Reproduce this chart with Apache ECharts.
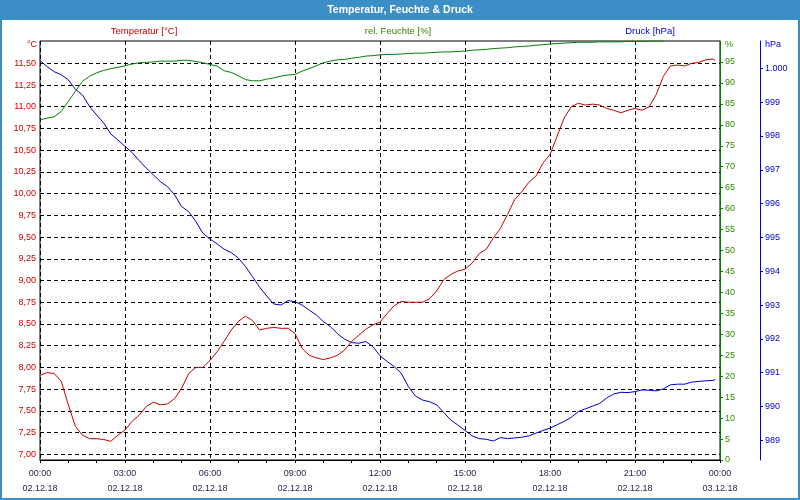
<!DOCTYPE html>
<html>
<head>
<meta charset="utf-8">
<script src="https://cdn.jsdelivr.net/npm/echarts@6/dist/echarts.min.js"></script>
<style>
html,body{margin:0;padding:0;background:#fff;}
#c{width:800px;height:500px;}
</style>
</head>
<body>
<div id="c"></div>
<script>
// time of day in hours (02.12.18 00:00 .. 23:50)
var hours = [0,0.25,0.5,0.75,1,1.25,1.5,1.75,2,2.25,2.5,2.75,3,3.25,3.5,3.75,4,4.25,4.5,4.75,5,5.25,5.5,5.75,
  6,6.25,6.5,6.75,7,7.25,7.5,7.75,8,8.25,8.5,8.75,9,9.25,9.5,9.75,10,10.25,10.5,10.75,11,11.25,11.5,11.75,
  12,12.25,12.5,12.75,13,13.25,13.5,13.75,14,14.25,14.5,14.75,15,15.25,15.5,15.75,16,16.25,16.5,16.75,17,17.25,17.5,17.75,
  18,18.25,18.5,18.75,19,19.25,19.5,19.75,20,20.25,20.5,20.75,21,21.25,21.5,21.75,22,22.25,22.5,22.75,23,23.25,23.5,23.75,23.83];

var temperature = [7.91,7.94,7.93,7.84,7.57,7.32,7.22,7.18,7.18,7.17,7.15,7.22,7.28,7.38,7.45,7.55,7.60,7.57,7.58,7.64,7.76,7.93,8.00,8.00,
  8.08,8.18,8.30,8.43,8.53,8.59,8.54,8.43,8.45,8.46,8.45,8.45,8.39,8.22,8.14,8.11,8.09,8.11,8.14,8.20,8.30,8.37,8.44,8.49,
  8.52,8.62,8.71,8.76,8.75,8.75,8.75,8.79,8.88,9.01,9.07,9.11,9.13,9.20,9.31,9.36,9.49,9.60,9.76,9.93,10.02,10.13,10.20,10.35,
  10.45,10.66,10.87,11.00,11.04,11.02,11.03,11.02,10.98,10.96,10.93,10.96,10.98,10.96,11.00,11.14,11.35,11.47,11.48,11.47,11.50,11.51,11.54,11.55,11.53];

var humidity = [81.2,81.6,81.9,83.2,85.6,88.0,90.4,91.6,92.4,93.0,93.4,93.7,94.1,94.5,94.8,94.9,95.0,95.2,95.2,95.2,95.4,95.4,95.1,94.8,
  94.4,94.0,92.9,92.5,91.7,90.8,90.5,90.5,90.9,91.2,91.6,91.9,92.0,92.8,93.4,94.1,94.8,95.2,95.5,95.6,95.9,96.1,96.4,96.5,
  96.7,96.8,96.8,96.9,97.0,97.1,97.1,97.2,97.3,97.4,97.4,97.5,97.6,97.8,97.9,98.0,98.2,98.3,98.4,98.6,98.7,98.8,99.0,99.1,
  99.3,99.4,99.5,99.6,99.7,99.7,99.7,99.8,99.8,99.8,99.8,99.9,99.9,99.9,100,100,100,null,null,null,null,null,null,null,null];

var pressure = [1000.23,1000.05,999.90,999.81,999.66,999.38,999.21,998.87,998.62,998.38,998.06,997.88,997.69,997.51,997.27,997.05,
  996.85,996.65,996.50,996.26,995.91,995.76,995.47,995.12,994.95,994.81,994.65,994.55,994.39,994.14,993.84,993.53,
  993.27,993.03,993.00,993.13,993.10,993.00,992.85,992.71,992.51,992.36,992.15,991.99,991.89,991.87,991.92,991.77,
  991.50,991.33,991.18,990.98,990.59,990.31,990.19,990.14,990.05,989.82,989.60,989.45,989.29,989.13,989.05,989.03,
  988.98,989.08,989.05,989.07,989.09,989.13,989.21,989.29,989.36,989.46,989.56,989.68,989.85,989.93,990.01,990.09,
  990.25,990.37,990.42,990.41,990.44,990.49,990.48,990.46,990.52,990.64,990.66,990.66,990.72,990.74,990.76,990.77,990.80];

var xTickLabels = {0:'00:00\n02.12.18',3:'03:00\n02.12.18',6:'06:00\n02.12.18',9:'09:00\n02.12.18',12:'12:00\n02.12.18',
  15:'15:00\n02.12.18',18:'18:00\n02.12.18',21:'21:00\n02.12.18',24:'00:00\n03.12.18'};

var chartTitle = 'Temperatur, Feuchte & Druck';
var seriesNames = ['Temperatur [°C]', 'rel. Feuchte [%]', 'Druck [hPa]'];

function pairs(vals){ return hours.map(function(h,i){ return [h, vals[i]]; }); }

var RED = '#cc0000', GREEN = '#008000', GREEN_TXT = '#2f8a00', BLUE = '#0000cc', FONT = 'Liberation Sans';
var dash = {color:'#000', type:[4,3], width:1};

var chart = echarts.init(document.getElementById('c'), null, {renderer:'canvas'});
chart.setOption({
  animation: false,
  backgroundColor: '#ffffff',
  textStyle: {fontFamily: FONT},
  grid: [
    {left:40, right:80, top:41, height:419, show:true, borderColor:'#000', borderWidth:1, backgroundColor:'#ffffff'},
    {left:40, right:80, top:63.3, bottom:45.7},
    {left:40, right:80, top:68.3, bottom:59.7}
  ],
  xAxis: [
    {gridIndex:0, type:'value', min:0, max:24, interval:3,
     axisLine:{show:true, onZero:false, lineStyle:{color:'#000'}},
     axisTick:{show:true, length:3, lineStyle:{color:'#000'}},
     minorTick:{show:true, splitNumber:3, length:3, lineStyle:{color:'#000'}},
     axisLabel:{color:'#1c2448', fontSize:9, fontFamily:FONT, margin:6, lineHeight:15,
       formatter:function(v){ return xTickLabels[v] || ''; }},
     splitLine:{show:true, lineStyle:dash}},
    {gridIndex:1, type:'value', min:0, max:24, show:false, axisLine:{onZero:false}},
    {gridIndex:2, type:'value', min:0, max:24, show:false, axisLine:{onZero:false}}
  ],
  yAxis: [
    {gridIndex:0, type:'value', position:'right', min:0, max:100, interval:5,
     axisLine:{show:true, onZero:false, lineStyle:{color:GREEN}},
     axisTick:{show:true, length:3, lineStyle:{color:GREEN}},
     axisLabel:{color:GREEN_TXT, fontSize:9, fontFamily:FONT, margin:5, showMaxLabel:false},
     splitLine:{show:false}},
    {gridIndex:0, type:'value', position:'right', offset:40, min:0, max:1,
     axisLine:{show:true, onZero:false, lineStyle:{color:BLUE}},
     axisTick:{show:false}, axisLabel:{show:false}, splitLine:{show:false}},
    {gridIndex:1, type:'value', position:'left', min:7, max:11.5, interval:0.25,
     axisLine:{show:false, onZero:false}, axisTick:{show:false},
     axisLabel:{color:RED, fontSize:9, fontFamily:FONT, margin:4,
       formatter:function(v){ return v.toFixed(2).replace('.', ','); }},
     splitLine:{show:true, lineStyle:dash}},
    {gridIndex:2, type:'value', position:'right', offset:40, min:989, max:1000, interval:1,
     axisLine:{show:false, onZero:false},
     axisTick:{show:true, length:3, lineStyle:{color:BLUE}},
     axisLabel:{color:BLUE, fontSize:9, fontFamily:FONT, margin:5,
       formatter:function(v){ return v >= 1000 ? '1.' + String(v).slice(1) : String(v); }},
     splitLine:{show:false}}
  ],
  series: [
    {name:seriesNames[1], type:'line', xAxisIndex:0, yAxisIndex:0, data:pairs(humidity), showSymbol:false, symbol:'none',
     lineStyle:{color:GREEN, width:1}, connectNulls:false},
    {name:seriesNames[2], type:'line', xAxisIndex:2, yAxisIndex:3, data:pairs(pressure), showSymbol:false, symbol:'none',
     lineStyle:{color:BLUE, width:1}, clip:false},
    {name:seriesNames[0], type:'line', xAxisIndex:1, yAxisIndex:2, data:pairs(temperature), showSymbol:false, symbol:'none',
     lineStyle:{color:RED, width:1}, clip:false}
  ],
  graphic: [
    {type:'rect', left:0, top:0, shape:{x:0, y:0, width:800, height:20}, style:{fill:'#3c8ec6'}, silent:true},
    {type:'rect', shape:{x:1, y:1, width:798, height:498}, style:{fill:null, stroke:'#3c8ec6', lineWidth:2}, silent:true},
    {type:'text', x:400, y:10, style:{text:chartTitle, fill:'#ffffff', font:'bold 10.5px "Liberation Sans"', textAlign:'center', textVerticalAlign:'middle'}},
    {type:'text', x:144, y:31, style:{text:seriesNames[0], fill:RED, font:'9.5px "Liberation Sans"', textAlign:'center', textVerticalAlign:'middle'}},
    {type:'text', x:398, y:31, style:{text:seriesNames[1], fill:GREEN_TXT, font:'9.5px "Liberation Sans"', textAlign:'center', textVerticalAlign:'middle'}},
    {type:'text', x:650, y:31, style:{text:seriesNames[2], fill:BLUE, font:'9.5px "Liberation Sans"', textAlign:'center', textVerticalAlign:'middle'}},
    {type:'text', x:37, y:45, style:{text:'°C', fill:RED, font:'9px "Liberation Sans"', textAlign:'right', textVerticalAlign:'middle'}},
    {type:'text', x:725, y:45, style:{text:'%', fill:GREEN_TXT, font:'9px "Liberation Sans"', textAlign:'left', textVerticalAlign:'middle'}},
    {type:'text', x:765, y:45, style:{text:'hPa', fill:BLUE, font:'9px "Liberation Sans"', textAlign:'left', textVerticalAlign:'middle'}}
  ]
});
</script>
</body>
</html>
